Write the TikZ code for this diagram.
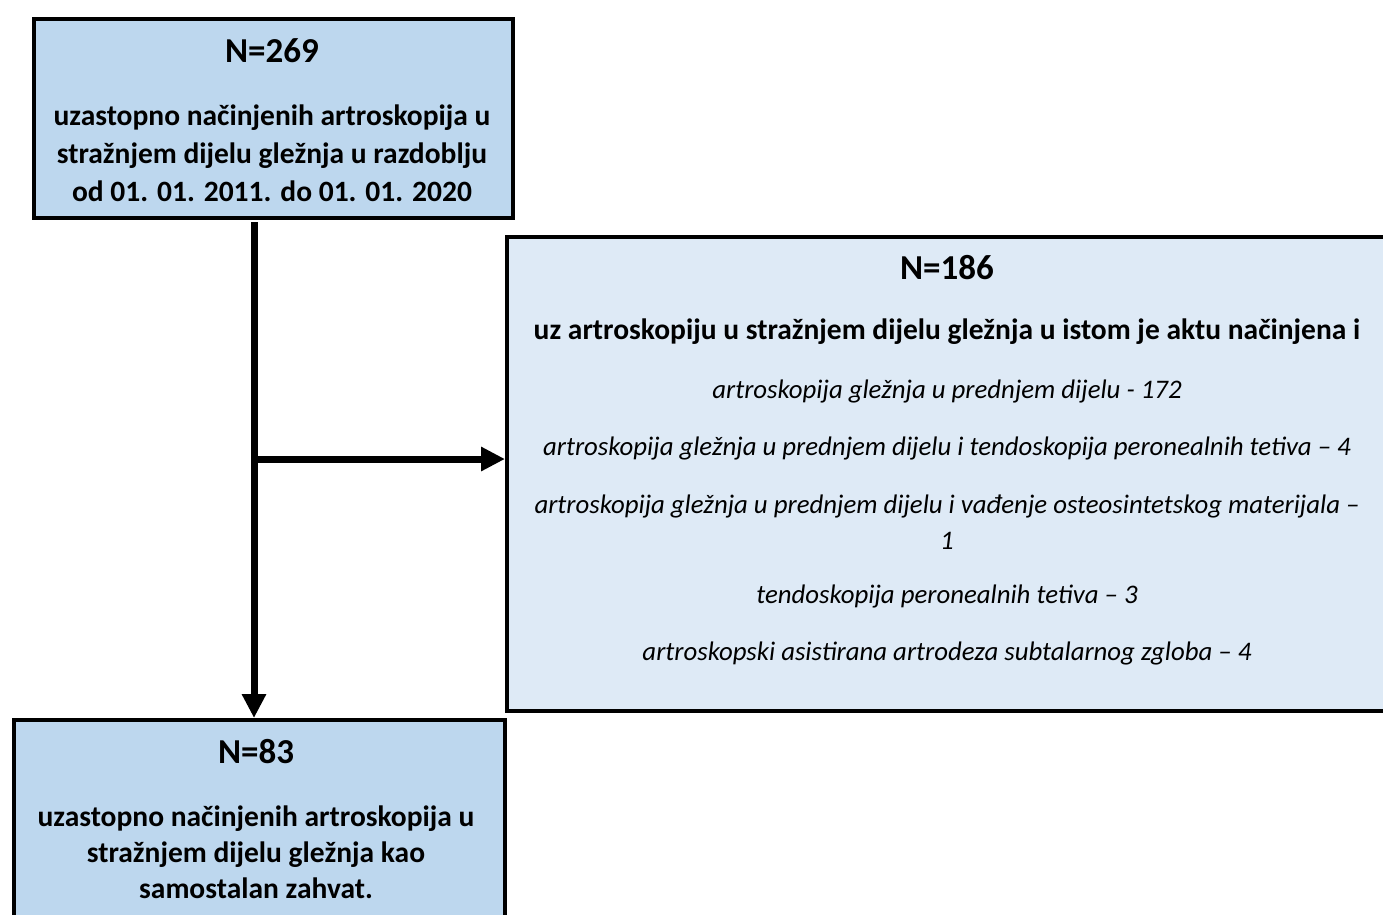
\documentclass[tikz,border=0pt]{standalone}
\usepackage{fontspec}
\setmainfont{Carlito}
\usetikzlibrary{arrows.meta}
\definecolor{boxblue}{HTML}{BDD7EE}
\definecolor{boxlight}{HTML}{DEEAF6}
\begin{document}
\begin{tikzpicture}[x=1pt,y=-1pt,
  box/.style={draw=black, line width=4pt, inner sep=0pt, anchor=north west},
  hd/.style={font=\fontsize{35}{40}\selectfont\bfseries, inner sep=0pt},
  bt/.style={font=\fontsize{29.5}{38}\selectfont\bfseries, align=center, inner sep=0pt},
  bt2/.style={font=\fontsize{29.5}{36}\selectfont\bfseries, align=center, inner sep=0pt},
  it/.style={font=\fontsize{26.8}{36}\selectfont\itshape, align=center, inner sep=0pt},
  conn/.style={line width=7pt, -{Triangle[length=24pt,width=23pt]}}]
\useasboundingbox (0,0) rectangle (1383,914);
\clip (0,0) rectangle (1383,914);
% boxes
\node[box, fill=boxblue, minimum width=479pt, minimum height=199pt] (top) at (32,17) {};
\node[box, fill=boxlight, minimum width=893pt, minimum height=474pt] (right) at (505,235) {};
\node[box, fill=boxblue, minimum width=491pt, minimum height=240pt] (bot) at (12,718) {};
% top text
\node[hd] (t1) at (272,51) {N=269};
\node[bt] (t2) at (272,153) {uzastopno načinjenih artroskopija u\\stražnjem dijelu gležnja u razdoblju\\od 01. 01. 2011. do 01. 01. 2020};
% right text
\node[hd] (r1) at (947,268) {N=186};
\node[bt] (r2) at (947,332) {uz artroskopiju u stražnjem dijelu gležnja u istom je aktu načinjena i};
\node[it] (r3) at (947,391) {artroskopija gležnja u prednjem dijelu - 172};
\node[it] (r4) at (947,448) {artroskopija gležnja u prednjem dijelu i tendoskopija peronealnih tetiva – 4};
\node[it] (r5) at (947,522) {artroskopija gležnja u prednjem dijelu i vađenje osteosintetskog materijala –\\1};
\node[it] (r6) at (947,596) {tendoskopija peronealnih tetiva – 3};
\node[it] (r7) at (947,653) {artroskopski asistirana artrodeza subtalarnog zgloba – 4};
% bottom text
\node[hd] (b1) at (256,752) {N=83};
\node[bt2] (b2) at (256,852) {uzastopno načinjenih artroskopija u\\stražnjem dijelu gležnja kao\\samostalan zahvat.};
% connectors
\coordinate (vstart) at (254,222);
\coordinate (branch) at (254,459);
\draw[conn] (vstart) -- (vstart |- bot.north);
\draw[conn] (branch) -- (branch -| right.west);
\end{tikzpicture}
\end{document}
